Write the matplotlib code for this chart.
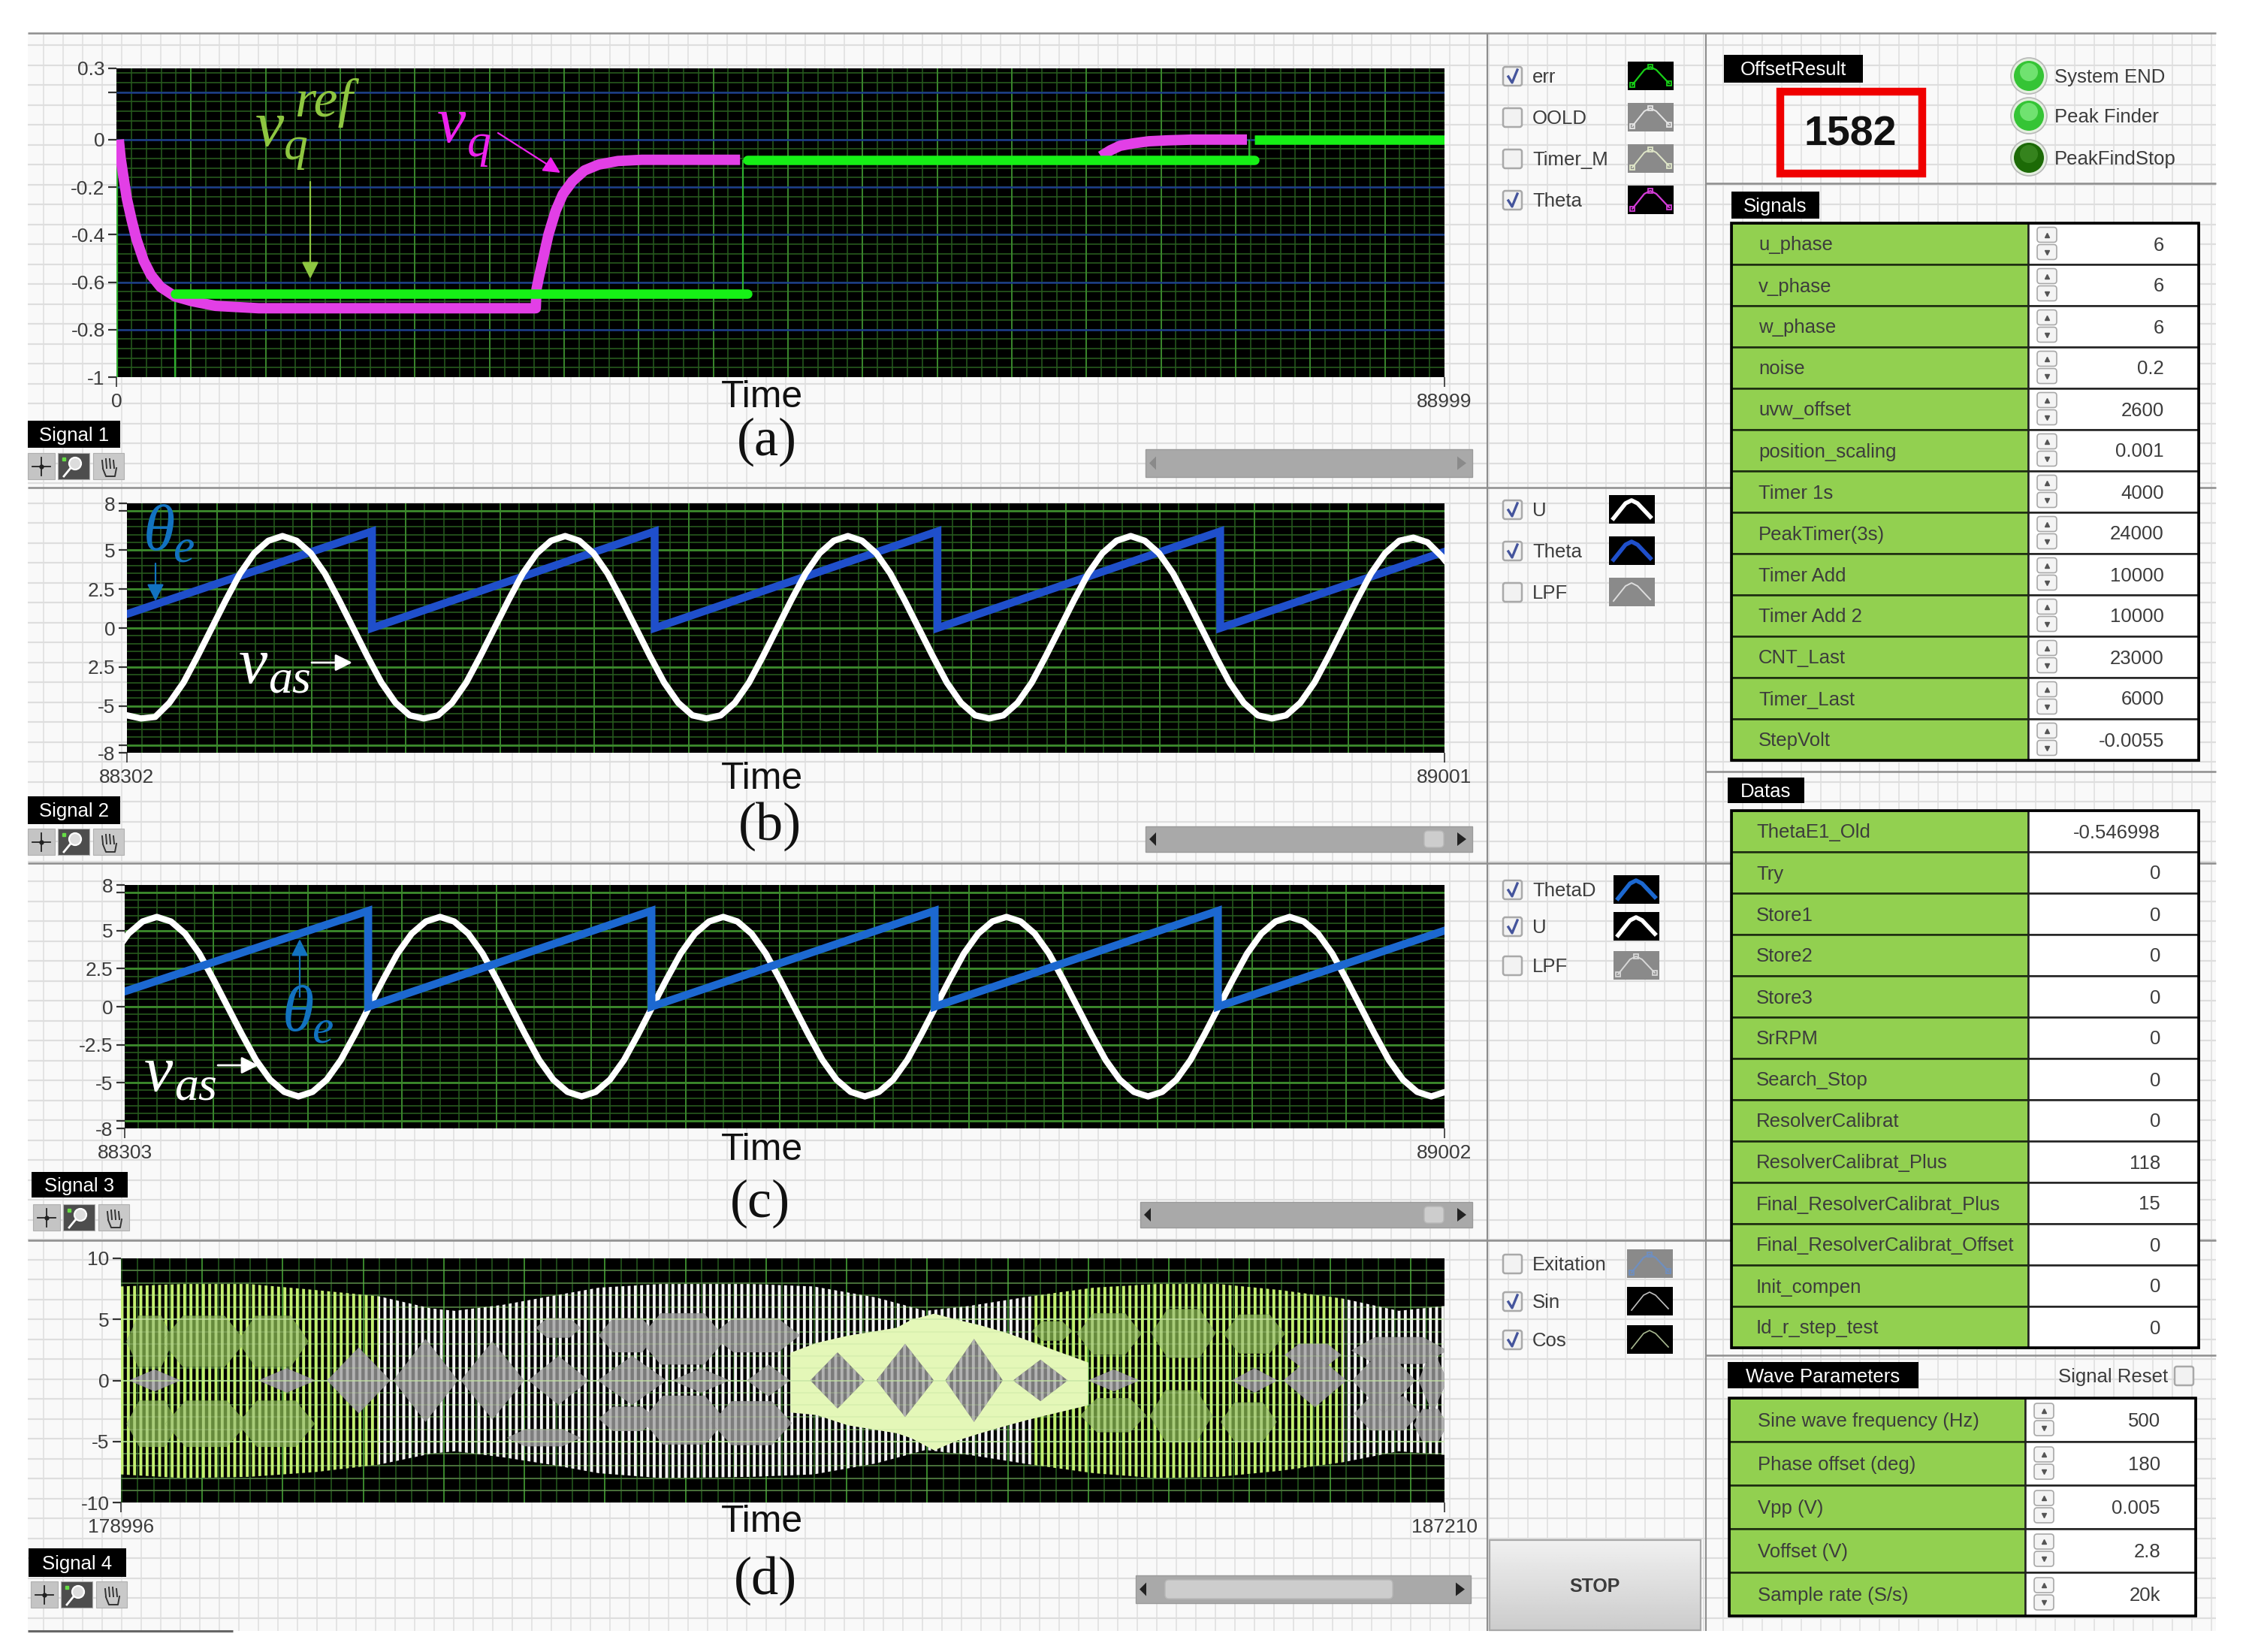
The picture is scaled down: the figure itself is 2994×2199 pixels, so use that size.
import numpy as np
import matplotlib
matplotlib.use("Agg")
import matplotlib.pyplot as plt
from matplotlib.patches import Rectangle, Circle, Polygon, FancyBboxPatch

W, H = 2994, 2199
plt.rcParams['font.family'] = ['Liberation Sans', 'DejaVu Sans']
plt.rcParams['hatch.linewidth'] = 2.8

# signal 1 (a)
a_theta_t = [158, 286, 479, 704, 1024, 1346, 1827, 2309, 2950, 3914, 5037, 6642, 9531, 28100,
             28149, 28310, 28631, 28951, 29433, 29914, 30557, 31359, 32322, 33606, 35211, 41792]
a_theta_v = [0, -0.08, -0.16, -0.25, -0.34, -0.42, -0.51, -0.57, -0.62, -0.66, -0.68, -0.70, -0.71, -0.71,
             -0.63, -0.58, -0.49, -0.4, -0.3, -0.23, -0.175, -0.13, -0.105, -0.09, -0.085, -0.085]
a_theta2_t = [65970, 66612, 67254, 68217, 69180, 70464, 72069, 75760]
a_theta2_v = [-0.07, -0.045, -0.026, -0.015, -0.007, -0.003, 0, 0]
a_err_t = [3914, 42273, 42273, 76242, 76242, 88999]
a_err_v = [-0.648, -0.648, -0.085, -0.085, 0, 0]
a_yticks = [0.3, 0.2, 0, -0.2, -0.4, -0.6, -0.8, -1]
a_ylabels = ['0.3', '', '0', '-0.2', '-0.4', '-0.6', '-0.8', '-1']

# signal 2 (b), one reading every 7.5 samples from 88302
b_start = 88302
b_u = [-5.6, -5.8, -5.7,
       -4.8, -3.5, -1.8, 0, 1.8, 3.5, 4.8, 5.6, 5.9, 5.6, 4.8, 3.5, 1.8, 0, -1.8, -3.5, -4.8, -5.6, -5.8, -5.6,
       -4.8, -3.5, -1.8, 0, 1.8, 3.5, 4.8, 5.6, 5.9, 5.6, 4.8, 3.5, 1.8, 0, -1.8, -3.5, -4.8, -5.6, -5.8, -5.6,
       -4.8, -3.5, -1.8, 0, 1.8, 3.5, 4.8, 5.6, 5.9, 5.6, 4.8, 3.5, 1.8, 0, -1.8, -3.5, -4.8, -5.6, -5.8, -5.6,
       -4.8, -3.5, -1.8, 0, 1.8, 3.5, 4.8, 5.6, 5.9, 5.6, 4.8, 3.5, 1.8, 0, -1.8, -3.5, -4.8, -5.6, -5.8, -5.6,
       -4.8, -3.5, -1.8, 0, 1.8, 3.5, 4.8, 5.6, 5.8, 5.5, 4.6, 3.5]
b_theta_t = [88302, 88432, 88432, 88582, 88582, 88732, 88732, 88882, 88882, 89001]
b_theta_v = [0.9, 6.2, 0, 6.2, 0, 6.2, 0, 6.2, 0, 4.9]
b_ylabels = ['8', '', '5', '2.5', '0', '2.5', '-5', '', '-8']

# signal 3 (c), one reading every 7.5 samples from 88297.5
c_start = 88297.5
c_u = [3.5, 4.8, 5.6, 5.9,
       5.6, 4.8, 3.5, 1.8, 0, -1.8, -3.5, -4.8, -5.6, -5.9, -5.6, -4.8, -3.5, -1.8, 0, 1.8, 3.5, 4.8, 5.6, 5.9,
       5.6, 4.8, 3.5, 1.8, 0, -1.8, -3.5, -4.8, -5.6, -5.9, -5.6, -4.8, -3.5, -1.8, 0, 1.8, 3.5, 4.8, 5.6, 5.9,
       5.6, 4.8, 3.5, 1.8, 0, -1.8, -3.5, -4.8, -5.6, -5.9, -5.6, -4.8, -3.5, -1.8, 0, 1.8, 3.5, 4.8, 5.6, 5.9,
       5.6, 4.8, 3.5, 1.8, 0, -1.8, -3.5, -4.8, -5.6, -5.9, -5.6, -4.8, -3.5, -1.8, 0, 1.8, 3.5, 4.8, 5.6, 5.9,
       5.6, 4.8, 3.5, 1.8, 0, -1.8, -3.5, -4.8, -5.6, -5.9, -5.6]
c_theta_t = [88303, 88432, 88432, 88582, 88582, 88732, 88732, 88882, 88882, 89002]
c_theta_v = [1.0, 6.3, 0, 6.3, 0, 6.3, 0, 6.3, 0, 5.0]
c_ylabels = ['8', '', '5', '2.5', '0', '-2.5', '-5', '', '-8']
bc_yticks = [8, 7.5, 5, 2.5, 0, -2.5, -5, -7.5, -8]

# signal 4 (d), beat envelope of the sin/cos traces
d_env_t = [178996, 179375, 179792, 180208, 180595, 180921, 181069, 181369, 181663, 181962, 182348, 182908,
           183294, 183681, 183989, 184259, 184646, 185033, 185420, 185807, 186194, 186581, 186926, 187210]
d_env_hi = [7.7, 7.9, 7.9, 7.4, 6.9, 5.9, 5.7, 6.2, 6.9, 7.6, 7.9, 7.9,
            7.7, 6.8, 5.7, 6.1, 6.9, 7.6, 7.9, 7.9, 7.4, 6.7, 5.7, 6.1]
d_env_lo = [-7.7, -8.0, -7.9, -7.5, -6.9, -6.0, -5.8, -6.3, -6.9, -7.6, -8.0, -7.9,
            -7.7, -6.8, -5.7, -6.1, -6.9, -7.6, -8.0, -7.9, -7.4, -6.7, -5.8, -6.1]
# stretches of the envelope where the stripes look green / white
d_band_from = [178996, 180595, 184646, 186581]
d_band_to = [180595, 184646, 186581, 187210]
d_band_color = ['#c4f070', '#f4f4f4', '#c4f070', '#f4f4f4']

d_pale_t = [183149, 183309, 183506, 183809, 183898, 184041, 184184, 184326, 184497, 184622, 184997]
d_pale_hi = [2.3, 3.1, 3.7, 4.35, 5.0, 5.5, 5.0, 4.55, 3.9, 3.3, 1.5]
d_pale_lo = [-2.6, -2.8, -3.65, -4.3, -4.7, -5.7, -4.9, -4.3, -3.65, -3.2, -2.0]

d_gray_from = [179045, 179847, 180275, 180686, 181105, 181524, 181954, 182417, 182881, 183274, 183684, 184112,
               184533, 184997, 185889, 186210, 186638, 187048]
d_gray_to = [179366, 180204, 180668, 181087, 181498, 181900, 182382, 182774, 183149, 183613, 184041, 184469,
             184872, 185318, 186174, 186602, 187030, 187226]
d_gray_half = [0.9, 1.0, 2.7, 3.4, 3.2, 2.0, 2.0, 1.0, 1.3, 2.3, 3.0, 3.4, 1.7, 0.9, 1.0, 2.2, 2.7, 2.7]

d_lobe_from = [179030, 179250, 179720, 179030, 179270, 179720, 184650, 184930, 185390, 185840, 184950, 185380, 185820,
               181570, 181390, 181960, 182210, 182660, 181960, 182230, 182660, 186220, 186630, 186650, 187020]
d_lobe_to = [179320, 179770, 180160, 179350, 179780, 180200, 184900, 185330, 185790, 186220, 185360, 185770, 186170,
             181850, 181850, 182320, 182750, 183210, 182320, 182750, 183160, 186570, 187226, 187060, 187226]
d_lobe_mid = [3.2, 3.2, 3.2, -3.55, -3.55, -3.55, 4.05, 3.8, 3.85, 3.8, -2.85, -2.9, -3.4,
              4.3, -4.7, 3.7, 3.4, 3.7, -3.15, -3.25, -3.5, 2.1, 2.45, -2.7, -3.65]
d_lobe_half = [2.1, 2.1, 2.1, 1.9, 1.9, 1.9, 0.8, 1.7, 2.0, 1.6, 1.4, 2.1, 1.6,
               0.8, 0.7, 1.4, 2.1, 1.4, 1.0, 2.0, 1.8, 0.9, 1.1, 1.4, 1.3]
d_lobe_green = [1] * 13 + [0] * 12

# panels on the right
signal_names = ['u_phase', 'v_phase', 'w_phase', 'noise', 'uvw_offset', 'position_scaling', 'Timer 1s',
                'PeakTimer(3s)', 'Timer Add', 'Timer Add 2', 'CNT_Last', 'Timer_Last', 'StepVolt']
signal_values = ['6', '6', '6', '0.2', '2600', '0.001', '4000', '24000', '10000', '10000', '23000', '6000', '-0.0055']
data_names = ['ThetaE1_Old', 'Try', 'Store1', 'Store2', 'Store3', 'SrRPM', 'Search_Stop', 'ResolverCalibrat',
              'ResolverCalibrat_Plus', 'Final_ResolverCalibrat_Plus', 'Final_ResolverCalibrat_Offset', 'Init_compen', 'Id_r_step_test']
data_values = ['-0.546998', '0', '0', '0', '0', '0', '0', '0', '118', '15', '0', '0', '0']
wave_names = ['Sine wave frequency (Hz)', 'Phase offset (deg)', 'Vpp (V)', 'Voffset (V)', 'Sample rate (S/s)']
wave_values = ['500', '180', '0.005', '2.8', '20k']

TEXT = '#3c3c3c'
fig = plt.figure(figsize=(W / 100, H / 100), dpi=100, facecolor='white')


def px_axes(x0, y0, x1, y1, zorder):
    return fig.add_axes([x0 / W, 1 - y1 / H, (x1 - x0) / W, (y1 - y0) / H], zorder=zorder)


# background sheet with the block diagram grid
bg = fig.add_axes([0, 0, 1, 1], zorder=0)
bg.set_xlim(0, W)
bg.set_ylim(H, 0)
bg.axis('off')
bg.add_patch(Rectangle((37, 44), 2913, 2127, fc='#f9f9f9', ec='none'))
bg.vlines(np.arange(58, 2950, 26), 44, 2171, color='#dedede', lw=1.1)
bg.hlines(np.arange(60, 2171, 26.5), 37, 2950, color='#dedede', lw=1.6)
bg.hlines([44, 649, 1149, 1651], 37, 2950, color='#8e8e8e', lw=1.8)
bg.hlines([244, 1027, 1804], 2271, 2950, color='#8e8e8e', lw=1.8)
bg.vlines(1980, 44, 2171, color='#8e8e8e', lw=1.5)
bg.vlines(2271, 44, 2171, color='#8e8e8e', lw=1.5)
bg.hlines(2171, 37, 310, color='#666666', lw=2.2)


def style_plot(ax, xlim, ylim, xmajor, xminor, ymajor, yminor, yticks, ylabels, hcolor, xlabels, hwidth=1.4):
    ax.set_facecolor('black')
    ax.set_xlim(*xlim)
    ax.set_ylim(*ylim)
    for s in ax.spines.values():
        s.set_visible(False)
    ax.set_axisbelow(True)
    ax.set_xticks(xminor, minor=True)
    ax.set_yticks(yminor, minor=True)
    ax.set_xticks([xlim[0]] + list(xmajor) + [xlim[1]],
                  labels=[xlabels[0]] + [''] * len(xmajor) + [xlabels[1]])
    ax.set_yticks(yticks, labels=ylabels)
    ax.grid(False)
    ax.vlines(xmajor, *ylim, color='#3b8a2e', lw=1.3, zorder=0.6)
    ax.vlines(xminor, *ylim, color='#24551c', lw=1.2, zorder=0.5)
    ax.hlines(yminor, *xlim, color='#275a1e', lw=1.2, zorder=0.5)
    ax.hlines(ymajor, *xlim, color=hcolor, lw=hwidth, zorder=0.7)
    ax.tick_params(axis='x', which='major', length=9, width=1.2, pad=6, labelsize=19, labelcolor=TEXT, color='#333333')
    ax.tick_params(axis='y', which='major', length=8, width=1.6, pad=3, labelsize=19, labelcolor=TEXT, color='#333333')
    ax.tick_params(which='minor', length=0)
    for tick in ax.xaxis.get_major_ticks()[1:-1]:
        tick.tick1line.set_visible(False)


# (a)
ax1 = px_axes(155, 91, 1923, 502, 2)
style_plot(ax1, (0, 88999), (-1, 0.3), np.arange(5000, 88000, 5000), np.arange(1000, 89000, 1000),
           [0.2, 0, -0.2, -0.4, -0.6, -0.8], np.arange(-0.96, 0.3, 0.04), a_yticks, a_ylabels, '#1c3c8c', ('0', '88999'), 1.8)
ax1.vlines([60, 3914, 42000, 75900], [-1, -1, -0.648, -0.085], [0, -0.648, -0.085, 0], color='#2fae2f', lw=1.6, zorder=1)
ax1.plot(a_theta_t, a_theta_v, color='#e23fe6', lw=10, solid_joinstyle='round', solid_capstyle='butt', zorder=2)
ax1.plot(a_theta2_t, a_theta2_v, color='#e23fe6', lw=10, solid_capstyle='butt', zorder=2)
for i in [0, 2, 4]:
    ax1.plot(a_err_t[i:i + 2], a_err_v[i:i + 2], color='#16f016', lw=9, solid_capstyle='round' if i < 4 else 'butt', zorder=3)

# (b)
ax2 = px_axes(169, 670, 1923, 1002, 2)
b_t = b_start + np.arange(len(b_u)) * 7.5
style_plot(ax2, (88302, 89001), (-8, 8), np.arange(88350, 89000, 50), np.arange(88310, 89000, 10),
           [7.5, 5, 2.5, 0, -2.5, -5, -7.5], np.arange(-7.5, 8, 0.5), bc_yticks, b_ylabels, '#3c8a2c', ('88302', '89001'), 2.0)
ax2.plot(b_theta_t, b_theta_v, color='#1f4fcb', lw=7.5, solid_joinstyle='miter', zorder=2)
ax2.plot(b_t, b_u, color='white', lw=6, zorder=3)

# (c)
ax3 = px_axes(166, 1178, 1923, 1502, 2)
c_t = c_start + np.arange(len(c_u)) * 7.5
style_plot(ax3, (88303, 89002), (-8, 8), np.arange(88350, 89000, 50), np.arange(88310, 89000, 10),
           [7.5, 5, 2.5, 0, -2.5, -5, -7.5], np.arange(-7.5, 8, 0.5), bc_yticks, c_ylabels, '#3c8a2c', ('88303', '89002'), 2.0)
ax3.plot(c_t, c_u, color='white', lw=6, zorder=2)
ax3.plot(c_theta_t, c_theta_v, color='#1c68d0', lw=7.5, solid_joinstyle='miter', zorder=3)

# (d)
ax4 = px_axes(161, 1675, 1923, 2000, 2)
style_plot(ax4, (178996, 187210), (-10, 10), np.arange(179500, 187500, 500), np.arange(179000, 187200, 100),
           [5, 0, -5], np.arange(-9, 10, 1), [10, 5, 0, -5, -10], ['10', '5', '0', '-5', '-10'], '#3c8a2c', ('178996', '187210'), 1.6)
env_t = np.array(d_env_t)
for start, stop, col in zip(d_band_from, d_band_to, d_band_color):
    ax4.fill_between(env_t, d_env_lo, d_env_hi, where=(env_t >= start) & (env_t <= stop), facecolor='none',
                     edgecolor=col, hatch='||', linewidth=0, zorder=1)
ax4.fill_between(d_pale_t, d_pale_lo, d_pale_hi, color='#e4f7b8', lw=0, zorder=1.5)
for start, stop, mid, half, green in zip(d_lobe_from, d_lobe_to, d_lobe_mid, d_lobe_half, d_lobe_green):
    w = stop - start
    ax4.fill([start, start + 0.25 * w, start + 0.75 * w, stop, start + 0.75 * w, start + 0.25 * w],
             [mid, mid + half, mid + half, mid, mid - half, mid - half],
             facecolor='#668a3c' if green else '#7d7d7d', edgecolor='#a8cc78' if green else '#b2b2b2',
             hatch='||', lw=0, zorder=1.8)
for start, stop, half in zip(d_gray_from, d_gray_to, d_gray_half):
    ax4.fill([start, (start + stop) / 2, stop, (start + stop) / 2], [0, half, 0, -half],
             facecolor='#7a7a7a', edgecolor='#b2b2b2', hatch='||', lw=0, zorder=1.9)
ax4.hlines(np.arange(-9, 10, 1), 178996, 187210, color='#bcdc9c', lw=1.2, alpha=0.3, zorder=2)
ax4.hlines([5, 0, -5], 178996, 187210, color='#c6e6a6', lw=1.4, alpha=0.55, zorder=2)

# everything drawn on top of the plots, in image pixels
fg = fig.add_axes([0, 0, 1, 1], zorder=5)
fg.set_xlim(0, W)
fg.set_ylim(H, 0)
fg.axis('off')
fg.patch.set_alpha(0)


def label(x, y, s, size=18.5, color=TEXT, ha='left', **kw):
    fg.text(x, y + 2, s, fontsize=size, color=color, ha=ha, va='center', **kw)


def black_tag(x0, y0, x1, y1, s):
    fg.add_patch(Rectangle((x0, y0), x1 - x0, y1 - y0, fc='black', ec='none'))
    label((x0 + x1) / 2, (y0 + y1) / 2, s, color='white', ha='center')


def checkbox(x, y, on, size=27):
    fg.add_patch(FancyBboxPatch((x + 2, y + 2), size - 4, size - 4, boxstyle='round,pad=1,rounding_size=3',
                                fc='#f2f2f2', ec='#a9a9a9', lw=1.8))
    if on:
        fg.plot([x + 8, x + 13, x + 20], [y + 14, y + 22, y + 5], color='#44549c', lw=2.4)


def swatch(x, yc, back, line, lw=1.6, dots=True):
    fg.add_patch(Rectangle((x, yc - 19), 61, 38, fc=back, ec='none'))
    xs = x + np.array([6, 22, 30, 38, 55])
    ys = yc + np.array([12, -8, -12, -8, 10])
    fg.plot(xs, ys, color=line, lw=lw)
    if dots:
        fg.plot(xs[[0, 2, 4]], ys[[0, 2, 4]], ls='none', marker='s', ms=5, mfc='none', mec=line, mew=1.3)


def legend_rows(rows):
    for y, name, on, x, back, line, lw, dots in rows:
        checkbox(2000, y - 13, on)
        label(2040, y, name)
        swatch(x, y, back, line, lw, dots)


legend_rows([(101, 'err', True, 2167, 'black', '#18d018', 1.6, True),
             (156, 'OOLD', False, 2167, '#8a8a8a', '#e4e4e4', 1.4, True),
             (211, 'Timer_M', False, 2167, '#8a8a8a', '#dfe6c8', 1.4, True),
             (266, 'Theta', True, 2167, 'black', '#d43cd8', 1.6, True),
             (678, 'U', True, 2142, 'black', 'white', 4, False),
             (733, 'Theta', True, 2142, 'black', '#1f4fcb', 4, False),
             (788, 'LPF', False, 2142, '#8a8a8a', '#dddddd', 1.4, False),
             (1184, 'ThetaD', True, 2148, 'black', '#1c68d0', 4, False),
             (1233, 'U', True, 2148, 'black', 'white', 4, False),
             (1285, 'LPF', False, 2148, '#8a8a8a', '#d8d8d8', 1.4, True),
             (1682, 'Exitation', False, 2166, '#8a8a8a', '#6f8fc0', 1.6, True),
             (1732, 'Sin', True, 2166, 'black', '#c0c0c0', 1.2, False),
             (1783, 'Cos', True, 2166, 'black', '#a8b890', 1.2, False)])


def scrollbar(x0, x1, y0, y1, thumb=None):
    fg.add_patch(Rectangle((x0, y0), x1 - x0, y1 - y0, fc='#a9a9a9', ec='#9a9a9a', lw=1))
    ym = (y0 + y1) / 2
    col = '#8a8a8a' if thumb is None else '#222222'
    fg.add_patch(Polygon([[x0 + 14, ym - 9], [x0 + 14, ym + 9], [x0 + 4 + 1, ym]], fc=col, ec='none'))
    fg.add_patch(Polygon([[x1 - 20, ym - 9], [x1 - 20, ym + 9], [x1 - 8, ym]], fc=col, ec='none'))
    if thumb:
        fg.add_patch(FancyBboxPatch((thumb[0], y0 + 6), thumb[1] - thumb[0], y1 - y0 - 12,
                                    boxstyle='round,pad=0,rounding_size=5', fc='#cdcdcd', ec='#b8b8b8', lw=1))


scrollbar(1525, 1960, 598, 635)
scrollbar(1525, 1960, 1100, 1134, (1896, 1922))
scrollbar(1518, 1960, 1600, 1634, (1896, 1922))
scrollbar(1512, 1958, 2097, 2134, (1551, 1854))


def tools(x, y):
    # cursor, zoom and hand buttons under each plot
    for dx, w, c in [(0, 36, '#c4c4c4'), (40, 42, '#4d4d4d'), (87, 41, '#c9c9c9')]:
        fg.add_patch(Rectangle((x + dx, y), w, 35, fc=c, ec='#b0b0b0', lw=0.8))
    fg.plot([x + 6, x + 30], [y + 18, y + 18], color='#222222', lw=1.3)
    fg.plot([x + 18, x + 18], [y + 6, y + 30], color='#222222', lw=1.3)
    fg.plot(x + 18, y + 18, 'o', color='#222222', ms=3.5)
    fg.add_patch(Circle((x + 63, y + 14), 8, fc='#dddddd', ec='white', lw=1.6))
    fg.plot([x + 57, x + 48], [y + 20, y + 31], color='white', lw=2)
    fg.plot(x + 48, y + 8, 's', color='#66dd44', ms=3)
    for k in range(4):
        fg.plot([x + 100 + k * 5, x + 99 + k * 5], [y + 20, y + 7 + abs(k - 1.5) * 2], color='#333333', lw=1.4)
    fg.plot([x + 100, x + 104, x + 116, x + 118], [y + 21, y + 31, y + 31, y + 20], color='#333333', lw=1.4)


for tx, ty in [(37, 603), (37, 1103), (44, 1603), (41, 2105)]:
    tools(tx, ty)

black_tag(37, 560, 160, 596, 'Signal 1')
black_tag(37, 1060, 160, 1097, 'Signal 2')
black_tag(42, 1560, 170, 1594, 'Signal 3')
black_tag(38, 2061, 168, 2099, 'Signal 4')

for x, y in [(1014, 527), (1014, 1035), (1014, 1529), (1014, 2024)]:
    label(x, y, 'Time', size=36, color='#111111', ha='center')
for x, y, s in [(1021, 586, '(a)'), (1025, 1098, '(b)'), (1012, 1600, '(c)'), (1019, 2102, '(d)')]:
    label(x, y, s, size=52, color='#111111', ha='center', family='Liberation Serif')


def math(x, y, s, size, color):
    fg.text(x, y, s, fontsize=size, color=color, family='Liberation Serif', style='italic', ha='left', va='baseline')


def arrow(x0, y0, x1, y1, color, lw=1.6, scale=34):
    fg.annotate('', xy=(x1, y1), xytext=(x0, y0),
                arrowprops=dict(arrowstyle='-|>', color=color, lw=lw, mutation_scale=scale, shrinkA=0, shrinkB=0))


VREF = '#8ec641'
VQ = '#ee22ee'
TH = '#1272c0'
math(340, 194, 'v', 62, VREF)
math(378, 212, 'q', 46, VREF)
math(392, 155, 'ref', 52, VREF)
arrow(413, 242, 413, 371, VREF)
math(582, 189, 'v', 62, VQ)
math(622, 208, 'q', 46, VQ)
arrow(663, 177, 746, 230, VQ)
math(191, 732, 'θ', 62, TH)
math(230, 748, 'e', 46, TH)
arrow(207, 750, 207, 800, TH)
math(318, 909, 'v', 62, 'white')
math(357, 921, 'as', 46, 'white')
arrow(415, 882, 469, 882, 'white', lw=2)
math(376, 1372, 'θ', 62, TH)
math(415, 1388, 'e', 46, TH)
arrow(399, 1327, 399, 1250, TH)
math(192, 1452, 'v', 62, 'white')
math(232, 1464, 'as', 46, 'white')
arrow(290, 1418, 344, 1418, 'white', lw=2)

# top right indicators
black_tag(2295, 73, 2480, 110, 'OffsetResult')
fg.add_patch(Rectangle((2370, 122), 189, 109, fc='none', ec='#f00000', lw=7.5))
label(2463, 177, '1582', size=40, color='#111111', ha='center', fontweight='bold')
for y, s, col, top in [(101, 'System END', '#35c435', '#7fea7f'), (154, 'Peak Finder', '#35c435', '#7fea7f'),
                       (210, 'PeakFindStop', '#1c6a06', '#3c8a24')]:
    fg.add_patch(Circle((2701, y), 24, fc='#e4efe0', ec='#b8b8b8', lw=1.2))
    fg.add_patch(Circle((2701, y), 20, fc=col, ec='none'))
    fg.add_patch(Circle((2701, y - 5), 12, fc=top, ec='none', alpha=0.8))
    label(2735, y, s)


def spinner(x, y, rowh):
    ym = y + rowh / 2
    for y0 in (ym - 22, ym + 1):
        fg.add_patch(FancyBboxPatch((x, y0), 26, 20, boxstyle='round,pad=0,rounding_size=4', fc='#f4f4f4', ec='#a8a8a8', lw=1.2))
    fg.plot(x + 13, ym - 12, '^', color='#555555', ms=4.5)
    fg.plot(x + 13, ym + 11, 'v', color='#555555', ms=4.5)


def table(x0, xm, x1, y0, rowh, names, values, spin, tx, vx):
    for i, (n, v) in enumerate(zip(names, values)):
        y = y0 + i * rowh
        fg.add_patch(Rectangle((x0, y), xm - x0, rowh, fc='#92d050', ec='#1c2c10', lw=1.8))
        fg.add_patch(Rectangle((xm, y), x1 - xm, rowh, fc='white', ec='#222222', lw=1.8))
        label(tx, y + rowh / 2, n)
        label(vx, y + rowh / 2, v, ha='right')
        if spin:
            spinner(xm + 12, y, rowh)
    fg.add_patch(Rectangle((x0, y0), x1 - x0, rowh * len(names), fc='none', ec='black', lw=2.6))


black_tag(2305, 255, 2422, 291, 'Signals')
table(2305, 2700, 2927, 297, 55, signal_names, signal_values, True, 2341, 2881)
black_tag(2300, 1035, 2402, 1069, 'Datas')
table(2305, 2700, 2927, 1079, 55, data_names, data_values, False, 2338, 2876)
black_tag(2300, 1813, 2554, 1848, 'Wave Parameters')
label(2886, 1831, 'Signal Reset', ha='right')
checkbox(2894, 1818, False)
table(2302, 2696, 2923, 1861, 58, wave_names, wave_values, True, 2340, 2876)

# stop button with a light vertical shade
grad = np.linspace(0.94, 0.8, 64).reshape(-1, 1)
fg.imshow(grad, extent=(1983, 2264, 2170, 2050), cmap='gray', vmin=0, vmax=1, aspect='auto', zorder=1)
fg.set_xlim(0, W)
fg.set_ylim(H, 0)
fg.add_patch(Rectangle((1983, 2050), 281, 120, fc='none', ec='#a8a8a8', lw=1.6, zorder=2))
label(2123, 2110, 'STOP', ha='center', fontweight='bold', size=18, zorder=3)

fig.savefig('out.png', dpi=100)
